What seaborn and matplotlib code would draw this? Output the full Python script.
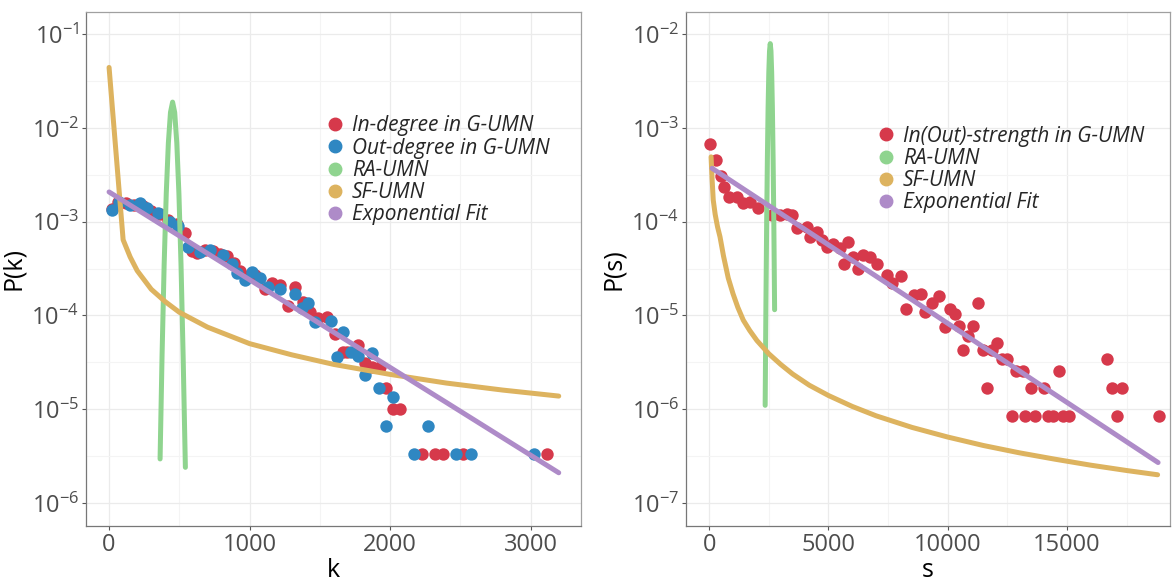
import matplotlib
matplotlib.use("Agg")
import matplotlib.pyplot as plt
import seaborn as sns
from matplotlib.lines import Line2D
from matplotlib.ticker import FixedLocator, LogFormatterSciNotation, NullFormatter

# ---- left panel: degree distribution ----
in_k = [19, 65, 120, 180, 240, 300, 360, 420, 480, 540, 589, 624, 680, 740, 790, 840, 890, 932, 990, 1040,
        1110, 1160, 1217, 1274, 1324, 1380, 1431, 1490, 1549, 1609, 1668, 1692, 1772, 1822, 1870, 1929, 1972,
        2023, 2071, 2226, 2320, 2375, 2522, 3120]
in_p = [1.36e-3, 1.6e-3, 1.58e-3, 1.52e-3, 1.45e-3, 1.3e-3, 1.2e-3, 1.05e-3, 9.5e-4, 7.5e-4,
        4.9e-4, 4.6e-4, 5.0e-4, 4.9e-4, 4.5e-4, 4.3e-4, 3.6e-4, 3.0e-4, 2.6e-4, 2.7e-4,
        1.9e-4, 2.2e-4, 2.1e-4, 1.25e-4, 2.0e-4, 1.4e-4, 1.1e-4, 9.3e-5, 9.5e-5, 6.4e-5,
        4.1e-5, 4.1e-5, 4.8e-5, 3.1e-5, 2.8e-5, 2.8e-5, 1.7e-5, 1.0e-5, 1.0e-5, 3.35e-6,
        3.35e-6, 3.35e-6, 3.35e-6, 3.35e-6]
out_k = [19, 73, 149, 221, 268, 349, 434, 491, 562, 648, 719, 811, 873, 909, 968, 1016, 1075, 1132, 1217, 1324,
         1372, 1418, 1466, 1580, 1621, 1668, 1720, 1774, 1822, 1870, 1922, 1972, 2023, 2273, 2173, 2470, 2574, 3027]
out_p = [1.33e-3, 1.63e-3, 1.5e-3, 1.57e-3, 1.4e-3, 1.24e-3, 1.0e-3, 8.9e-4, 5.3e-4, 4.8e-4,
         5.0e-4, 4.4e-4, 3.5e-4, 2.8e-4, 2.4e-4, 2.9e-4, 2.5e-4, 2.0e-4, 1.9e-4, 1.7e-4,
         1.2e-4, 1.36e-4, 8.6e-5, 8.8e-5, 3.6e-5, 6.7e-5, 4.1e-5, 3.7e-5, 2.3e-5, 4.0e-5,
         1.7e-5, 6.7e-6, 1.34e-5, 6.7e-6, 3.35e-6, 3.35e-6, 3.35e-6, 3.35e-6]
ra_k = [363, 377, 392, 407, 422, 437, 452, 467, 482, 497, 512, 527, 543]
ra_pk = [2.95e-6, 3.7e-5, 3.5e-4, 2.0e-3, 6.9e-3, 1.46e-2, 1.88e-2, 1.46e-2, 6.9e-3, 2.0e-3, 3.5e-4, 3.7e-5, 2.4e-6]
sf_k = [0, 100, 150, 200, 300, 400, 500, 700, 1000, 1300, 1600, 2000, 2400, 2800, 3200]
sf_pk = [4.4e-2, 6.4e-4, 4.2e-4, 3.0e-4, 1.9e-4, 1.4e-4, 1.08e-4, 7.5e-5, 5.0e-5, 3.8e-5, 3.0e-5,
         2.35e-5, 1.9e-5, 1.6e-5, 1.38e-5]
fit_k = [0, 800, 1600, 2400, 3200]
fit_pk = [2.07e-3, 3.69e-4, 6.59e-5, 1.18e-5, 2.1e-6]

# ---- right panel: strength distribution ----
str_s = [40, 285, 482, 633, 843, 1153, 1430, 1711, 2060, 2620, 2969, 3250, 3459, 3669, 4088, 4226, 4507, 4717,
         4926, 5206, 5484, 5834, 5652, 6043, 6253, 6463, 6743, 7023, 7442, 7652, 8060, 8270, 8600, 8880, 9048,
         9330, 9630, 9887, 10080, 10285, 10487, 10655, 10865, 11048, 11270, 11467, 11661, 11845, 12054, 12264,
         12474, 12683, 12864, 13145, 13241, 13480, 13660, 14038, 14218, 14428, 14680, 14847, 15099, 16667,
         16876, 17086, 17296, 18872]
str_p = [6.7e-4, 4.5e-4, 3.1e-4, 2.36e-4, 1.85e-4, 1.85e-4, 1.57e-4, 1.63e-4, 1.39e-4, 1.18e-4, 1.18e-4,
         1.22e-4, 1.19e-4, 8.5e-5, 8.8e-5, 6.9e-5, 7.8e-5, 6.4e-5, 5.4e-5, 5.8e-5, 5.2e-5, 6.0e-5, 3.5e-5,
         4.2e-5, 3.15e-5, 4.4e-5, 4.2e-5, 3.5e-5, 2.7e-5, 2.2e-5, 2.65e-5, 1.17e-5, 1.65e-5, 1.7e-5, 1.1e-5,
         1.36e-5, 1.62e-5, 7.6e-6, 1.17e-5, 1.04e-5, 7.7e-6, 4.3e-6, 6.0e-6, 7.7e-6, 1.37e-5, 4.3e-6, 1.7e-6,
         4.3e-6, 5.1e-6, 3.4e-6, 3.4e-6, 8.5e-7, 2.55e-6, 2.55e-6, 8.5e-7, 1.7e-6, 8.5e-7, 1.7e-6, 8.5e-7,
         8.5e-7, 2.55e-6, 8.5e-7, 8.5e-7, 3.4e-6, 1.7e-6, 8.5e-7, 1.7e-6, 8.5e-7]
ra_s = [2347, 2380, 2410, 2440, 2470, 2500, 2530, 2560, 2590, 2620, 2650, 2680, 2710, 2743]
ra_ps = [1.1e-6, 1.4e-5, 9.8e-5, 4.7e-4, 1.63e-3, 3.9e-3, 6.6e-3, 7.9e-3, 6.6e-3, 3.9e-3, 1.63e-3, 4.7e-4,
         9.8e-5, 1.15e-5]
sf_s = [80, 120, 170, 250, 350, 453, 600, 800, 1000, 1200, 1430, 1700, 2000, 2500, 3000, 3500, 4200, 5000,
        6000, 7000, 8500, 10000, 11500, 13000, 14500, 16000, 17500, 18800]
sf_ps = [4.9e-4, 2.9e-4, 1.7e-4, 1.2e-4, 8.8e-5, 6.9e-5, 4.3e-5, 2.5e-5, 1.7e-5, 1.22e-5, 8.9e-6, 6.9e-6,
         5.4e-6, 3.9e-6, 3.0e-6, 2.37e-6, 1.8e-6, 1.4e-6, 1.07e-6, 8.5e-7, 6.4e-7, 5.05e-7, 4.1e-7, 3.43e-7,
         2.93e-7, 2.53e-7, 2.22e-7, 2.0e-7]
fit_s = [120, 4800, 9500, 14150, 18820]
fit_ps = [3.7e-4, 6.1e-5, 1.0e-5, 1.64e-6, 2.7e-7]

RED, BLUE, GREEN, GOLD, PURPLE = "#D6394B", "#2F87C2", "#8FD48F", "#DDB35F", "#AE8BC8"

sns.set_theme(style="whitegrid")
plt.rcParams["font.family"] = ["Open Sans", "DejaVu Sans"]
plt.rcParams["mathtext.fontset"] = "custom"
plt.rcParams["mathtext.rm"] = "Open Sans"
plt.rcParams["axes.unicode_minus"] = False

fig = plt.figure(figsize=(11.72, 5.81), dpi=100)
ax1 = fig.add_axes([0.0734, 0.0947, 0.4224, 0.8847])
ax2 = fig.add_axes([0.5853, 0.0947, 0.4130, 0.8847])


def style_axis(ax, xmajor, xminor, ylo, yhi):
    ax.set_yscale("log")
    ax.set_ylim(10 ** ylo, 10 ** yhi)
    ax.xaxis.set_major_locator(FixedLocator(xmajor))
    ax.xaxis.set_minor_locator(FixedLocator(xminor))
    dec = list(range(int(ylo) - 1, int(yhi) + 1))
    ax.yaxis.set_major_locator(FixedLocator([10.0 ** d for d in dec]))
    ax.yaxis.set_minor_locator(FixedLocator([10.0 ** (d + 0.5) for d in dec]))
    ax.yaxis.set_major_formatter(LogFormatterSciNotation())
    ax.yaxis.set_minor_formatter(NullFormatter())
    ax.grid(True, which="major", color="#EBEBEB", linewidth=0.9)
    ax.grid(True, which="minor", color="#F4F4F4", linewidth=0.8)
    ax.set_axisbelow(True)
    ax.tick_params(which="major", bottom=True, left=True, length=3, width=0.8, color="#555555",
                   labelsize=17, labelcolor="#4D4D4D", pad=2)
    ax.tick_params(which="minor", length=0)
    for sp in ax.spines.values():
        sp.set_color("#A0A0A0")
        sp.set_linewidth(0.9)
    ax.spines["left"].set_color("#777777")
    ax.spines["bottom"].set_color("#777777")


def legend_for(ax, items, anchor):
    handles = [Line2D([], [], marker="o", linestyle="", markersize=9, color=c, label=l) for l, c in items]
    ax.legend(handles=handles, loc="upper left", bbox_to_anchor=anchor, frameon=False,
              prop={"style": "italic", "size": 15}, handletextpad=0.3, handlelength=1.0,
              labelspacing=0.06, borderaxespad=0)


# left
sns.scatterplot(x=in_k, y=in_p, ax=ax1, color=RED, s=80, linewidth=0, zorder=3)
sns.scatterplot(x=out_k, y=out_p, ax=ax1, color=BLUE, s=80, linewidth=0, zorder=3)
sns.lineplot(x=ra_k, y=ra_pk, ax=ax1, color=GREEN, linewidth=3.6, zorder=4)
sns.lineplot(x=sf_k, y=sf_pk, ax=ax1, color=GOLD, linewidth=3.6, zorder=4)
sns.lineplot(x=fit_k, y=fit_pk, ax=ax1, color=PURPLE, linewidth=3.6, zorder=5)
style_axis(ax1, [0, 1000, 2000, 3000], [500, 1500, 2500], -6.245, -0.765)
ax1.set_xlim(-164, 3359)
ax1.set_xlabel("k", fontsize=18, color="black", labelpad=1)
ax1.set_ylabel("P(k)", fontsize=18, color="black", labelpad=4)
legend_for(ax1, [("In-degree in G-UMN", RED), ("Out-degree in G-UMN", BLUE), ("RA-UMN", GREEN),
                 ("SF-UMN", GOLD), ("Exponential Fit", PURPLE)], (0.465, 0.815))

# right
sns.scatterplot(x=str_s, y=str_p, ax=ax2, color=RED, s=80, linewidth=0, zorder=3)
sns.lineplot(x=ra_s, y=ra_ps, ax=ax2, color=GREEN, linewidth=3.6, zorder=4)
sns.lineplot(x=sf_s, y=sf_ps, ax=ax2, color=GOLD, linewidth=3.6, zorder=4)
sns.lineplot(x=fit_s, y=fit_ps, ax=ax2, color=PURPLE, linewidth=3.6, zorder=5)
style_axis(ax2, [0, 5000, 10000, 15000], [2500, 7500, 12500, 17500], -7.245, -1.765)
ax2.set_xlim(-973, 19320)
ax2.set_xlabel("s", fontsize=18, color="black", labelpad=1)
ax2.set_ylabel("P(s)", fontsize=18, color="black", labelpad=4)
legend_for(ax2, [("In(Out)-strength in G-UMN", RED), ("RA-UMN", GREEN), ("SF-UMN", GOLD),
                 ("Exponential Fit", PURPLE)], (0.375, 0.795))

fig.savefig("out.png", dpi=100)
